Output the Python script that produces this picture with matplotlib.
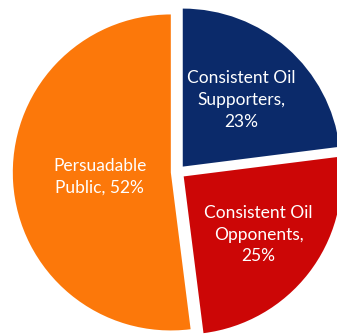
import numpy as np
import matplotlib
matplotlib.use("Agg")
import matplotlib.pyplot as plt

# ── Data ────────────────────────────────────────────────────────────────────
labels = ["Consistent Oil\nSupporters,\n23%",
          "Consistent Oil\nOpponents,\n25%",
          "Persuadable\nPublic, 52%"]
shares = [23, 25, 52]
colors = ["#0B2A6A", "#CC0606", "#FC780A"]
# how far from the slice tip each label sits (fraction of radius)
label_pos = [0.56, 0.6, 0.45]

plt.rcParams["font.family"] = ["Lato", "DejaVu Sans"]

fig = plt.figure(figsize=(3.37, 3.35), dpi=100)
ax = fig.add_axes([0, 0, 1, 1])

# explode is an absolute offset in data units here (radius is in pixels)
wedges, _ = ax.pie(shares, colors=colors, startangle=90, counterclock=False,
                   explode=[7.2] * 3, radius=158, center=(178, 163),
                   wedgeprops=dict(linewidth=0))

for w, lab, d in zip(wedges, labels, label_pos):
    mid = np.deg2rad((w.theta1 + w.theta2) / 2)
    cx, cy = w.center
    ax.text(cx + d * w.r * np.cos(mid), cy + d * w.r * np.sin(mid), lab,
            ha="center", va="center", color="white", fontsize=12.5,
            linespacing=1.45)

ax.set_xlim(0, 337)
ax.set_ylim(0, 335)
ax.set_aspect("equal")
ax.axis("off")

fig.savefig("out.png", dpi=100, facecolor="white")
